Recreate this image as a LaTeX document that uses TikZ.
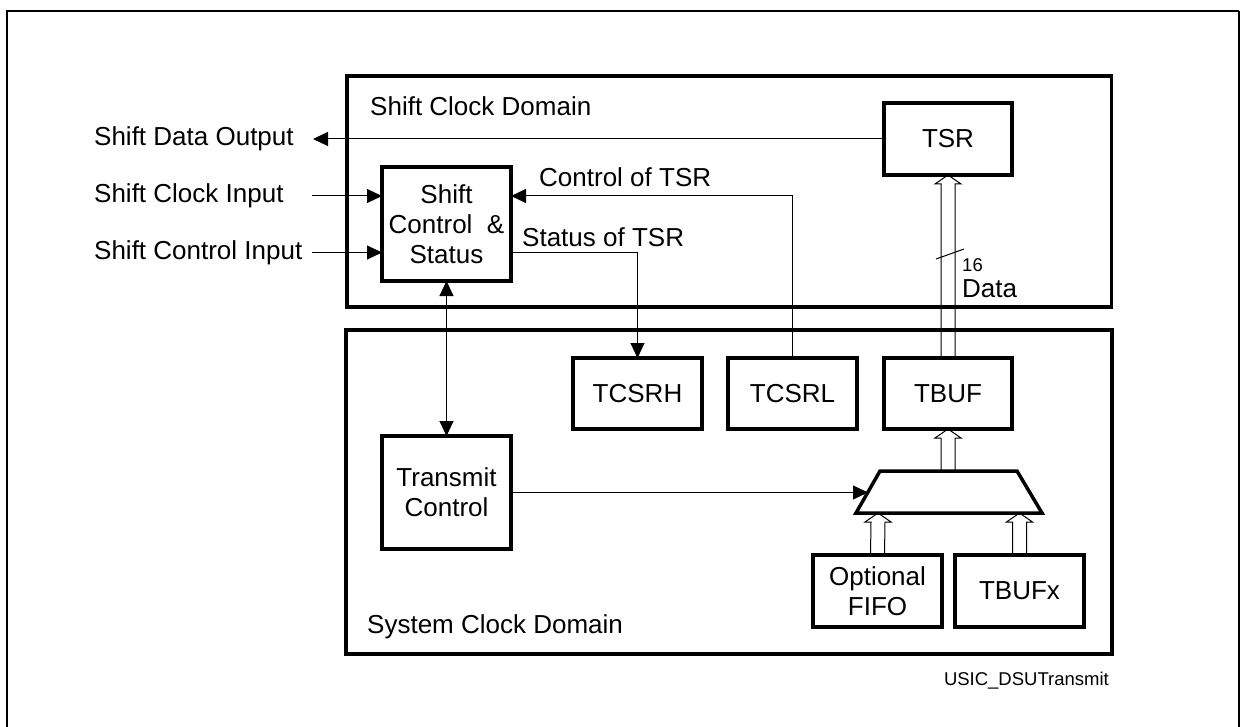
\documentclass[tikz,border=0pt]{standalone}
\usepackage{fontspec}
\setmainfont{Liberation Sans}
\usetikzlibrary{arrows.meta,calc}
\newcommand{\bigf}{\fontsize{26}{30}\selectfont}
\newcommand{\smallf}{\fontsize{18.5}{22}\selectfont}
\tikzset{
  blk/.style={draw, line width=3.5pt, inner sep=0pt, outer sep=0pt, align=center, font=\bigf},
  domainbox/.style={draw, line width=3.5pt},
  conn/.style={line width=1pt, -{Triangle[length=15pt,width=14pt]}},
  biconn/.style={line width=1pt, {Triangle[length=15pt,width=14pt]}-{Triangle[length=15pt,width=14pt]}},
  thinline/.style={line width=1pt},
  lbl/.style={anchor=base west, inner sep=0pt, font=\bigf},
}
% hollow wide bus arrow from #1 (source) up to #2 (tip)
\newcommand{\busarrow}[2]{%
  \draw[line width=1pt, line join=miter]
    ($(#1)+(-7,0)$) -- ($(#2)+(-7,9)$) -- ($(#2)+(-13,9)$) -- (#2)
    -- ($(#2)+(13,9)$) -- ($(#2)+(7,9)$) -- ($(#1)+(7,0)$);}
\begin{document}
\begin{tikzpicture}[x=1pt,y=-1pt]
\useasboundingbox (0,0) rectangle (1241,727);
\fill[white] (0,0) rectangle (1241,727);
% outer frame
\draw[line width=2.5pt] (7,727) -- (7,11) -- (1239,11);
\draw[line width=1.3pt] (1239,11) -- (1239,727);

% domains
\draw[domainbox] (347,76) rectangle (1111.5,307);
\draw[domainbox] (346,330) rectangle (1112,654);
\node[lbl] (scd) at (370,116) {Shift Clock Domain};
\node[lbl] (syd) at (367,633) {System Clock Domain};

% blocks
\node[blk, minimum width=128pt, minimum height=72pt] (tsr) at (948,139) {TSR};
\node[blk, minimum width=129pt, minimum height=114pt] (sc) at (446.5,224)
  {Shift\\Control\ \ \&\\Status};
\node[blk, minimum width=129pt, minimum height=71pt] (tcsrh) at (637.5,393.5) {TCSRH};
\node[blk, minimum width=129pt, minimum height=71pt] (tcsrl) at (792.5,393.5) {TCSRL};
\node[blk, minimum width=128pt, minimum height=71pt] (tbuf) at (948,393.5) {TBUF};
\node[blk, minimum width=129pt, minimum height=113pt] (tc) at (446.5,492.5) {Transmit\\Control};
\node[blk, minimum width=129pt, minimum height=72pt] (fifo) at (877.5,591) {Optional\\FIFO};
\node[blk, minimum width=129pt, minimum height=72pt] (tbufx) at (1019.5,591) {TBUFx};

% multiplexer
\coordinate (m1) at (880,471);
\coordinate (m2) at (1017,471);
\coordinate (m3) at (1042,513);
\coordinate (m4) at (856,513);
\draw[line width=3.5pt, line join=miter] (m1) -- (m2) -- (m3) -- (m4) -- cycle;
\coordinate (muxtop) at (948,471);
\coordinate (muxleft) at (868,492.5);
\coordinate (muxb1) at (878,513);
\coordinate (muxb2) at (1019.5,513);

% external signals
\node[lbl] (sdo) at (94,146) {Shift Data Output};
\node[lbl] (sci) at (94,203) {Shift Clock Input};
\node[lbl] (scti) at (94,259) {Shift Control Input};
\coordinate (sdoend) at (313,139);
\coordinate (scistart) at (312,196);
\coordinate (sctistart) at (312,252.5);

\draw[conn] (tsr.west) -- (sdoend);
\draw[conn] (scistart) -- (scistart -| sc.west);
\draw[conn] (sctistart) -- (sctistart -| sc.west);

% control / status
\draw[conn] (tcsrl.north) |- ([yshift=28pt]sc.east);
\draw[conn] ([yshift=-28.5pt]sc.east) -| (tcsrh.north);
\node[lbl] (ctl) at (539,187) {Control of TSR};
\node[lbl] (stl) at (522,247) {Status of TSR};

% bidirectional
\draw[biconn] (sc.south) -- (tc.north);

% transmit control to mux
\draw[conn] (tc.east |- muxleft) -- (muxleft);

% bus arrows
\busarrow{tbuf.north}{tsr.south}
\busarrow{muxtop}{tbuf.south}
\busarrow{fifo.north}{muxb1}
\busarrow{tbufx.north}{muxb2}

% bus width mark
\coordinate (s1) at (936,259);
\coordinate (s2) at (964,249);
\draw[thinline] (s1) -- (s2);
\node[anchor=base west, inner sep=0pt, font=\smallf] (n16) at (962,271) {16};
\node[lbl] (data) at (962,297) {Data};

\node[anchor=base east, inner sep=0pt, font=\smallf] (fig) at (1109,685) {USIC\_DSUTransmit};
\end{tikzpicture}
\end{document}
